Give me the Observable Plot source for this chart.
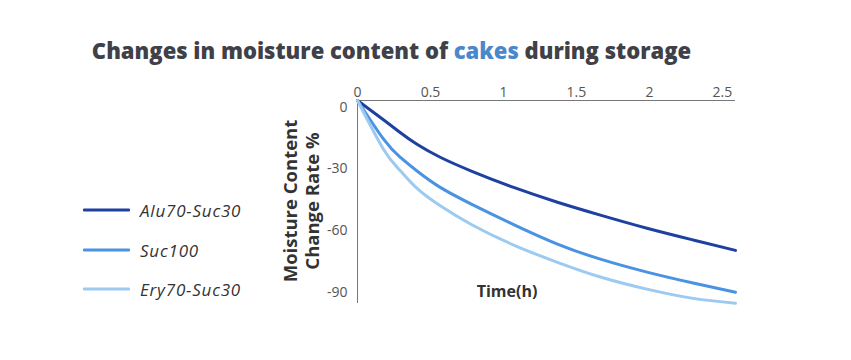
<!DOCTYPE html>
<html>
<head>
<meta charset="utf-8">
<script src="https://cdn.jsdelivr.net/npm/d3@7"></script>
<script src="https://cdn.jsdelivr.net/npm/@observablehq/plot@0.6"></script>
<style>
  html, body { margin: 0; padding: 0; background: #fff; }
  #wrap { position: relative; width: 851px; height: 360px; overflow: hidden; font-family: "Open Sans", sans-serif; }
  #title { position: absolute; left: 0; top: 35px; width: 783px; text-align: center; font-size: 22px; font-weight: 800; color: #404048; white-space: nowrap; }
  #title .hl { color: #4a88cc; }
  #ylab { position: absolute; left: 301px; top: 201px; width: 240px; transform: translate(-50%, -50%) rotate(-90deg); text-align: center; font-size: 18.5px; font-weight: 700; color: #333; line-height: 22px; white-space: nowrap; }
  #xlab { position: absolute; left: 507px; top: 291px; transform: translate(-50%, -50%); font-size: 16px; font-weight: 700; color: #333; white-space: nowrap; }
  #legend { position: absolute; left: 83px; top: 0; }
  .li { position: absolute; left: 0; display: flex; align-items: center; white-space: nowrap; transform: translateY(-50%); }
  .li span.sw { display: inline-block; width: 47px; height: 3px; margin-right: 10px; border-radius: 1px; }
  .li span.tx { font-style: italic; font-size: 17px; letter-spacing: 0.8px; color: #333; }
  #chart { position: absolute; left: 0; top: 0; }
</style>
</head>
<body>
<div id="wrap">
  <div id="chart"></div>
  <div id="title">Changes in moisture content of <span class="hl">cakes</span> during storage</div>
  <div id="ylab">Moisture Content<br>Change Rate %</div>
  <div id="xlab">Time(h)</div>
  <div id="legend"></div>
</div>
<script>
// ---- data ----
const hours = [0, 0.18, 0.29, 0.41, 0.57, 0.78, 1.07, 1.37, 1.67, 1.99, 2.30, 2.59];
const alu70Suc30 = [0, -9.5, -15.5, -21.5, -27.8, -34.4, -42.4, -49.6, -56.0, -62.4, -68.0, -73.1];
const suc100     = [0, -19.0, -27.5, -34.5, -42.5, -50.5, -60.5, -70.0, -77.5, -83.8, -89.0, -93.5];
const ery70Suc30 = [0, -24.0, -34.0, -43.0, -51.5, -60.5, -70.5, -78.9, -86.2, -92.1, -96.5, -98.9];
const seriesNames = ["Alu70-Suc30", "Suc100", "Ery70-Suc30"];
const seriesColors = ["#1e40a0", "#4a92e2", "#9ccaf0"];
const xTicks = [0, 0.5, 1, 1.5, 2, 2.5];
const yTicks = [0, -30, -60, -90];

const seriesValues = [alu70Suc30, suc100, ery70Suc30];
const rows = [];
seriesNames.forEach((name, i) => {
  hours.forEach((h, j) => rows.push({series: name, hour: h, value: seriesValues[i][j]}));
});

const plot = Plot.plot({
  width: 851,
  height: 360,
  marginLeft: 357,
  marginRight: 116,
  marginTop: 100,
  marginBottom: 57,
  style: {fontFamily: "'Open Sans', sans-serif", fontSize: "14px", color: "#555", background: "transparent"},
  x: {domain: [0, 2.59]},
  y: {domain: [-99, 0]},
  color: {domain: seriesNames, range: seriesColors},
  marks: [
    Plot.axisX({anchor: "top", ticks: xTicks, tickSize: 0, tickPadding: 4, tickFormat: d => String(d), label: null, fill: "#555"}),
    Plot.axisY({ticks: yTicks, tickSize: 0, tickPadding: 10, dy: 7, tickFormat: d => String(d), label: null, fill: "#555"}),
    Plot.ruleY([0], {stroke: "#777", strokeWidth: 1}),
    Plot.ruleX([0], {stroke: "#777", strokeWidth: 1}),
    Plot.line(rows, {x: "hour", y: "value", z: "series", stroke: "series", strokeWidth: 3, curve: "natural"})
  ]
});
document.getElementById("chart").appendChild(plot);

// legend
const legendY = [210, 250, 289];
const legend = document.getElementById("legend");
seriesNames.forEach((name, i) => {
  const d = document.createElement("div");
  d.className = "li";
  d.style.top = legendY[i] + "px";
  d.innerHTML = `<span class="sw" style="background:${seriesColors[i]}"></span><span class="tx">${name}</span>`;
  legend.appendChild(d);
});
</script>
</body>
</html>
